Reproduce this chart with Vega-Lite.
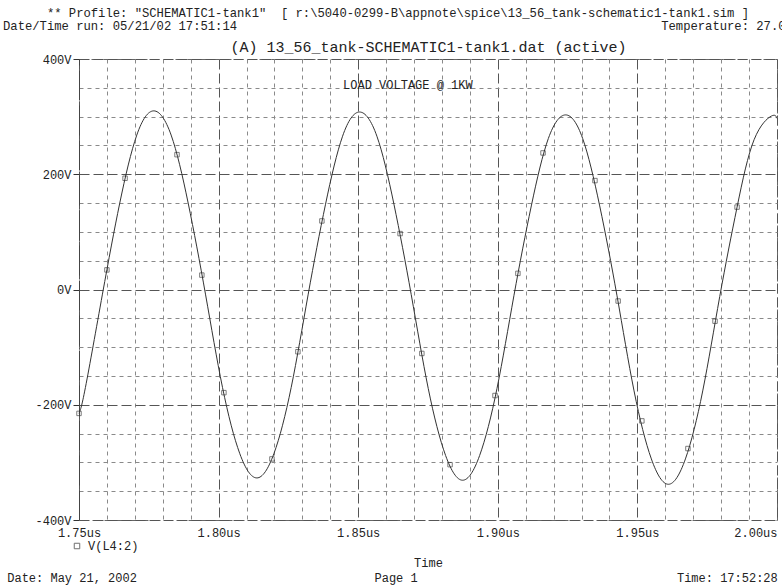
{
  "$schema": "https://vega.github.io/schema/vega-lite/v6.json",
  "width": 698,
  "height": 461,
  "autosize": {"type": "none"},
  "padding": {"left": 79, "top": 59, "right": 5, "bottom": 66},
  "background": "white",
  "config": {
    "font": "Liberation Mono",
    "view": {"stroke": "#666", "strokeDash": [8, 4], "strokeWidth": 1},
    "axis": {"labelFont": "Liberation Mono", "titleFont": "Liberation Mono", "labelFontSize": 12, "titleFontSize": 12, "labelColor": "#222", "titleColor": "#222", "titleFontWeight": "normal"},
    "legend": {"labelFont": "Liberation Mono", "labelFontSize": 12, "labelColor": "#222"}
  },
  "title": {
    "text": [
      "\u200b\u00a0\u00a0\u00a0\u00a0\u00a0\u00a0** Profile: \"SCHEMATIC1-tank1\"\u00a0\u00a0[ r:\\5040-0299-B\\appnote\\spice\\13_56_tank-schematic1-tank1.sim ]",
      "Date/Time run: 05/21/02 17:51:14\u00a0\u00a0\u00a0\u00a0\u00a0\u00a0\u00a0\u00a0\u00a0\u00a0\u00a0\u00a0\u00a0\u00a0\u00a0\u00a0\u00a0\u00a0\u00a0\u00a0\u00a0\u00a0\u00a0\u00a0\u00a0\u00a0\u00a0\u00a0\u00a0\u00a0\u00a0\u00a0\u00a0\u00a0\u00a0\u00a0\u00a0\u00a0\u00a0\u00a0\u00a0\u00a0\u00a0\u00a0\u00a0\u00a0\u00a0\u00a0\u00a0\u00a0\u00a0\u00a0\u00a0\u00a0\u00a0\u00a0\u00a0\u00a0Temperature: 27.0"
    ],
    "anchor": "start",
    "frame": "group",
    "dx": -76,
    "font": "Liberation Mono",
    "fontSize": 12.2,
    "fontWeight": "normal",
    "color": "#222",
    "lineHeight": 13,
    "offset": 7
  },
  "datasets": {
    "trace": [
      {"t": 1.75, "v": -215}, {"t": 1.7523, "v": -170}, {"t": 1.7584, "v": -8}, {"t": 1.7646, "v": 150},
      {"t": 1.7707, "v": 268}, {"t": 1.7768, "v": 310}, {"t": 1.783, "v": 268}, {"t": 1.7891, "v": 150},
      {"t": 1.7953, "v": -8}, {"t": 1.8014, "v": -170}, {"t": 1.8076, "v": -285}, {"t": 1.8137, "v": -327},
      {"t": 1.8198, "v": -285}, {"t": 1.826, "v": -170}, {"t": 1.8321, "v": -8}, {"t": 1.8383, "v": 148},
      {"t": 1.8444, "v": 266}, {"t": 1.8505, "v": 308}, {"t": 1.8567, "v": 266}, {"t": 1.8628, "v": 148},
      {"t": 1.869, "v": -9}, {"t": 1.8751, "v": -172}, {"t": 1.8813, "v": -288}, {"t": 1.8874, "v": -331},
      {"t": 1.8935, "v": -288}, {"t": 1.8997, "v": -172}, {"t": 1.9058, "v": -10}, {"t": 1.912, "v": 145},
      {"t": 1.9181, "v": 262}, {"t": 1.9243, "v": 303}, {"t": 1.9304, "v": 262}, {"t": 1.9365, "v": 145},
      {"t": 1.9427, "v": -11}, {"t": 1.9488, "v": -176}, {"t": 1.955, "v": -294}, {"t": 1.9611, "v": -338},
      {"t": 1.9672, "v": -294}, {"t": 1.9734, "v": -176}, {"t": 1.9795, "v": -12}, {"t": 1.9857, "v": 143},
      {"t": 1.9918, "v": 260}, {"t": 1.998, "v": 301}, {"t": 2.0, "v": 297}
    ],
    "markers": [
      {"t": 1.7500, "v": -215, "series": "V(L4:2)"}, {"t": 1.7600, "v": 34, "series": "V(L4:2)"},
      {"t": 1.7665, "v": 193, "series": "V(L4:2)"}, {"t": 1.7851, "v": 234, "series": "V(L4:2)"},
      {"t": 1.7940, "v": 25, "series": "V(L4:2)"}, {"t": 1.8019, "v": -179, "series": "V(L4:2)"},
      {"t": 1.8191, "v": -294, "series": "V(L4:2)"}, {"t": 1.8284, "v": -108, "series": "V(L4:2)"},
      {"t": 1.8370, "v": 119, "series": "V(L4:2)"}, {"t": 1.8650, "v": 97, "series": "V(L4:2)"},
      {"t": 1.8728, "v": -111, "series": "V(L4:2)"}, {"t": 1.8829, "v": -304, "series": "V(L4:2)"},
      {"t": 1.8990, "v": -184, "series": "V(L4:2)"}, {"t": 1.9072, "v": 28, "series": "V(L4:2)"},
      {"t": 1.9162, "v": 237, "series": "V(L4:2)"}, {"t": 1.9348, "v": 189, "series": "V(L4:2)"},
      {"t": 1.9431, "v": -20, "series": "V(L4:2)"}, {"t": 1.9516, "v": -228, "series": "V(L4:2)"},
      {"t": 1.9681, "v": -276, "series": "V(L4:2)"}, {"t": 1.9778, "v": -55, "series": "V(L4:2)"},
      {"t": 1.9857, "v": 143, "series": "V(L4:2)"}
    ],
    "notes": [{"t": 1.8678, "v": 355, "label": "LOAD VOLTAGE @ 1KW"}]
  },
  "resolve": {"axis": {"x": "independent", "y": "independent"}},
  "layer": [
    {
      "data": {"name": "trace"},
      "mark": {"type": "line", "color": "#333", "strokeWidth": 1, "interpolate": "natural"},
      "encoding": {
        "x": {
          "field": "t", "type": "quantitative",
          "scale": {"domain": [1.75, 2.0], "nice": false, "zero": false},
          "axis": {
            "values": [1.75, 1.76, 1.77, 1.78, 1.79, 1.8, 1.81, 1.82, 1.83, 1.84, 1.85, 1.86, 1.87, 1.88, 1.89, 1.9, 1.91, 1.92, 1.93, 1.94, 1.95, 1.96, 1.97, 1.98, 1.99, 2.0],
            "labelExpr": "abs(datum.value * 20 - round(datum.value * 20)) < 0.001 ? format(datum.value, '.2f') + 'us' : ''",
            "labelOverlap": false,
            "labelFlush": false,
            "labelAlign": {"condition": {"test": "datum.value > 1.995", "value": "right"}, "value": "center"},
            "labelPadding": 7,
            "tickSize": 0,
            "domain": false,
            "grid": true,
            "gridColor": {"condition": {"test": "abs(datum.value * 20 - round(datum.value * 20)) < 0.001", "value": "#555"}, "value": "#8a8a8a"},
            "gridDash": {"condition": {"test": "abs(datum.value * 20 - round(datum.value * 20)) < 0.001", "value": [10, 4]}, "value": [4, 4]},
            "gridWidth": 1,
            "title": [
              "Time",
              "Date: May 21, 2002\u00a0\u00a0\u00a0\u00a0\u00a0\u00a0\u00a0\u00a0\u00a0\u00a0\u00a0\u00a0\u00a0\u00a0\u00a0\u00a0\u00a0\u00a0\u00a0\u00a0\u00a0\u00a0\u00a0\u00a0\u00a0\u00a0\u00a0\u00a0\u00a0\u00a0\u00a0\u00a0\u00a0Page 1\u00a0\u00a0\u00a0\u00a0\u00a0\u00a0\u00a0\u00a0\u00a0\u00a0\u00a0\u00a0\u00a0\u00a0\u00a0\u00a0\u00a0\u00a0\u00a0\u00a0\u00a0\u00a0\u00a0\u00a0\u00a0\u00a0\u00a0\u00a0\u00a0\u00a0\u00a0\u00a0\u00a0\u00a0\u00a0\u00a0Time: 17:52:28\u00a0\u00a0\u00a0\u00a0\u00a0\u00a0\u00a0\u00a0\u00a0\u00a0\u200b"
            ],
            "titlePadding": 19,
            "titleLineHeight": 15
          }
        },
        "y": {
          "field": "v", "type": "quantitative",
          "scale": {"domain": [-400, 400], "nice": false, "zero": false},
          "axis": {
            "values": [-400, -350, -300, -250, -200, -150, -100, -50, 0, 50, 100, 150, 200, 250, 300, 350, 400],
            "labelExpr": "datum.value % 200 == 0 ? datum.value + 'V' : ''",
            "labelOverlap": false,
            "labelFlush": false,
            "labelPadding": 2,
            "tickSize": 6,
            "tickColor": "#333",
            "tickOpacity": {"condition": {"test": "datum.value % 200 == 0", "value": 1}, "value": 0},
            "domainColor": "#444",
            "domainDash": [30, 5],
            "grid": true,
            "gridColor": {"condition": {"test": "datum.value % 200 == 0", "value": "#555"}, "value": "#8a8a8a"},
            "gridDash": {"condition": {"test": "datum.value % 200 == 0", "value": [10, 4]}, "value": [4, 4]},
            "gridWidth": 1,
            "title": null
          }
        }
      }
    },
    {
      "data": {"name": "markers"},
      "mark": {"type": "point", "shape": "square", "filled": false, "size": 20, "strokeWidth": 0.9},
      "encoding": {
        "x": {"field": "t", "type": "quantitative", "scale": {"domain": [1.75, 2.0], "nice": false, "zero": false}, "axis": null},
        "y": {"field": "v", "type": "quantitative", "scale": {"domain": [-400, 400], "nice": false, "zero": false}, "axis": null},
        "color": {
          "field": "series", "type": "nominal",
          "scale": {"range": ["#333"]},
          "legend": {"orient": "none", "legendX": -8, "legendY": 481, "title": null, "symbolType": "square", "symbolSize": 30, "symbolStrokeWidth": 1, "labelOffset": 5}
        }
      }
    },
    {
      "data": {"name": "notes"},
      "mark": {"type": "text", "font": "Liberation Mono", "fontSize": 12, "color": "#222"},
      "encoding": {
        "x": {
          "field": "t", "type": "quantitative",
          "scale": {"domain": [1.75, 2.0], "nice": false, "zero": false},
          "axis": {"orient": "top", "title": "(A) 13_56_tank-SCHEMATIC1-tank1.dat (active)", "labels": false, "ticks": false, "domain": false, "grid": false, "titleFontSize": 15, "titlePadding": 5}
        },
        "y": {"field": "v", "type": "quantitative", "scale": {"domain": [-400, 400], "nice": false, "zero": false}, "axis": null},
        "text": {"field": "label"}
      }
    }
  ]
}
